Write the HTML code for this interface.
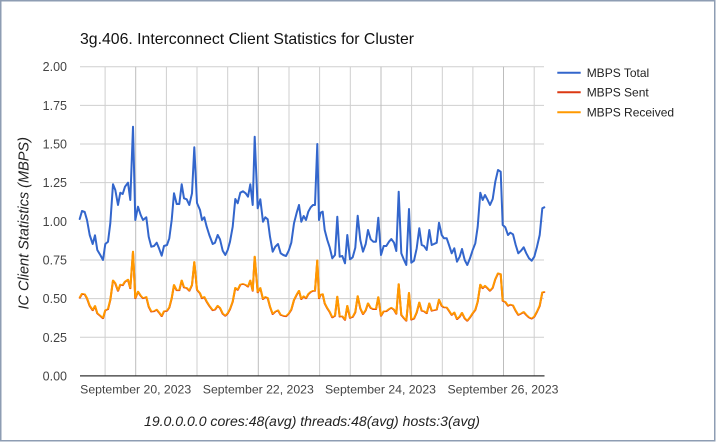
<!DOCTYPE html>
<html><head><meta charset="utf-8"><style>
html,body{margin:0;padding:0;background:#fff;}
svg{display:block;}
text{font-family:"Liberation Sans",Arial,sans-serif;}
</style></head><body>
<svg width="716" height="442" viewBox="0 0 716 442" xmlns="http://www.w3.org/2000/svg">
<rect x="0" y="0" width="716" height="442" fill="#fff"/>
<rect x="0.75" y="0.75" width="714" height="440" fill="none" stroke="#8e9db3" stroke-width="1.5"/>
<text x="80" y="44" font-size="16" fill="#111" textLength="334" lengthAdjust="spacingAndGlyphs">3g.406. Interconnect Client Statistics for Cluster</text>
<g stroke="#cfcfcf" stroke-width="1">
<line x1="80" x2="544" y1="66.7" y2="66.7"/>
<line x1="80" x2="544" y1="105.35" y2="105.35"/>
<line x1="80" x2="544" y1="144" y2="144"/>
<line x1="80" x2="544" y1="182.65" y2="182.65"/>
<line x1="80" x2="544" y1="221.3" y2="221.3"/>
<line x1="80" x2="544" y1="259.95" y2="259.95"/>
<line x1="80" x2="544" y1="298.6" y2="298.6"/>
<line x1="80" x2="544" y1="337.25" y2="337.25"/>
<line x1="105.1" x2="105.1" y1="66.7" y2="375.9"/>
<line x1="166.4" x2="166.4" y1="66.7" y2="375.9"/>
<line x1="197" x2="197" y1="66.7" y2="375.9"/>
<line x1="227.7" x2="227.7" y1="66.7" y2="375.9"/>
<line x1="289" x2="289" y1="66.7" y2="375.9"/>
<line x1="319.6" x2="319.6" y1="66.7" y2="375.9"/>
<line x1="350.3" x2="350.3" y1="66.7" y2="375.9"/>
<line x1="411.6" x2="411.6" y1="66.7" y2="375.9"/>
<line x1="442.3" x2="442.3" y1="66.7" y2="375.9"/>
<line x1="472.9" x2="472.9" y1="66.7" y2="375.9"/>
<line x1="534.2" x2="534.2" y1="66.7" y2="375.9"/>
</g>
<g stroke="#bdbdbd" stroke-width="1">
<line x1="135.7" x2="135.7" y1="66.7" y2="375.9"/>
<line x1="258.3" x2="258.3" y1="66.7" y2="375.9"/>
<line x1="381" x2="381" y1="66.7" y2="375.9"/>
<line x1="503.5" x2="503.5" y1="66.7" y2="375.9"/>
</g>
<line x1="80" x2="544.5" y1="375.9" y2="375.9" stroke="#333" stroke-width="1.3"/>
<g font-size="12.5" fill="#444" text-anchor="end">
<text x="67" y="71.2">2.00</text>
<text x="67" y="109.9">1.75</text>
<text x="67" y="148.5">1.50</text>
<text x="67" y="187.2">1.25</text>
<text x="67" y="225.8">1.00</text>
<text x="67" y="264.5">0.75</text>
<text x="67" y="303.1">0.50</text>
<text x="67" y="341.8">0.25</text>
<text x="67" y="380.4">0.00</text>
</g>
<g font-size="12" fill="#444" text-anchor="middle">
<text x="135.7" y="393.5" textLength="111" lengthAdjust="spacingAndGlyphs">September 20, 2023</text>
<text x="258.3" y="393.5" textLength="111" lengthAdjust="spacingAndGlyphs">September 22, 2023</text>
<text x="380.5" y="393.5" textLength="111" lengthAdjust="spacingAndGlyphs">September 24, 2023</text>
<text x="503" y="393.5" textLength="111" lengthAdjust="spacingAndGlyphs">September 26, 2023</text>
</g>
<text transform="translate(28.5,223.3) rotate(-90)" font-size="14.5" font-style="italic" fill="#222" text-anchor="middle">IC Client Statistics (MBPS)</text>
<text x="312" y="426" font-size="13.5" font-style="italic" fill="#222" text-anchor="middle" textLength="336" lengthAdjust="spacingAndGlyphs">19.0.0.0.0 cores:48(avg) threads:48(avg) hosts:3(avg)</text>
<defs>
<path id="p" d="M79.7,219 L82,211 84.7,212 87,220 89.7,235 92.7,244 95,235.3 97.3,250 100.3,255 103,260 105.3,244 108,241.7 110.3,223.3 113,184.3 115.3,190 118,205 120.3,192.7 122.7,194 125,186.7 128,182.7 130.3,200 133,126.7 135.3,220 138,206.7 140.7,215 143,220 146.3,217.3 148.7,236.7 151.3,246.7 154,246 156.7,242.7 159,248.3 161.7,255.7 164,246 167,245 169.3,238.3 171.7,220 174,193.3 176.7,204 179.3,204 181.7,184.3 184,198.3 186.7,199.3 189.3,205 192,193.3 194.3,147.3 197,203 200,210 202,220 204.3,217.3 206.7,226.7 209.3,235 212.7,244 215,242.7 217.7,235 220,239.3 222.7,250.7 225.3,255 227.7,250 230,241.7 232.7,226.7 235.3,199 237.7,203.3 240.3,192.7 243,191.3 245.7,193.3 248,196.7 250.3,184.3 252.7,205 254.7,136.7 257.7,208.3 260.3,199.3 263,221.7 265.3,217.3 267.7,219.3 270,236.7 272.7,251.7 275.3,246.7 278,244 280.7,253.3 283.3,255 286,256 288.7,250.7 291.3,242.7 294,223.3 296.7,212.7 299,205 301.3,221.7 303.7,216 306,220 308.3,211.7 310.7,207.3 313,205 315,205 317.3,144 319,220 320.7,212.7 322.7,211.7 324.7,230 327.3,240 329.7,247.3 332.3,258.3 335,255 337.3,216.7 339.7,256.7 342.3,256 345,263.3 347.3,235 350,259.3 352.7,257.3 355.3,247.7 357.7,215.7 360.3,240 363,251.7 365.7,244 368,230 370.7,239.3 373.3,241.7 376,241.7 378.3,217.7 381,255 383.7,246 386.3,246 389,241.7 391.3,239 394,242.7 396.3,251 398.7,191.7 401.3,253.3 404,260 406.3,265 409,209 411.3,262.7 414,260.7 416.7,248.3 419.3,228.3 421.7,245 424,246 426.7,250 429.3,230 431.7,245 434,244 436.7,242.7 439,222.7 441.7,235 444,238.3 446.7,238.3 449,245 451.7,253.3 454.3,248.3 457,261.7 459.7,256.7 462,249 464.7,260 467.3,265 470,258.3 472.7,250 475.3,243.3 477.7,226.7 480.3,192.7 482.7,200 485,195 487.3,199.3 490,205 492.7,199 495.3,181.7 498,170 500.7,171.7 502.7,225 505.3,227.3 508,235 510.3,232.7 513,234.3 515.7,245 518.3,253.3 521,250.7 523.7,247.3 526.3,253.3 529,258.3 531.7,260.7 534.3,256.7 537,246.7 539.7,235 542.3,208.3 544.3,207.3"/>
</defs>
<g fill="none" stroke-linejoin="round" stroke-linecap="round">
<use href="#p" stroke="#dc3912" stroke-width="2" transform="matrix(1 0 0 0.5 0 188.6)" vector-effect="non-scaling-stroke" style="vector-effect:non-scaling-stroke"/>
<use href="#p" stroke="#ff9900" stroke-width="2" transform="matrix(1 0 0 0.5 0 187.95)" vector-effect="non-scaling-stroke" style="vector-effect:non-scaling-stroke"/>
<use href="#p" stroke="#3366cc" stroke-width="2"/>
</g>
<g stroke-width="2">
<line x1="557.3" x2="580.7" y1="72.7" y2="72.7" stroke="#3366cc"/>
<line x1="557.3" x2="580.7" y1="92.3" y2="92.3" stroke="#dc3912"/>
<line x1="557.3" x2="580.7" y1="112.3" y2="112.3" stroke="#ff9900"/>
</g>
<g font-size="12" fill="#222">
<text x="586.7" y="77">MBPS Total</text>
<text x="586.7" y="96.6">MBPS Sent</text>
<text x="586.7" y="116.6">MBPS Received</text>
</g>
</svg>
</body></html>
